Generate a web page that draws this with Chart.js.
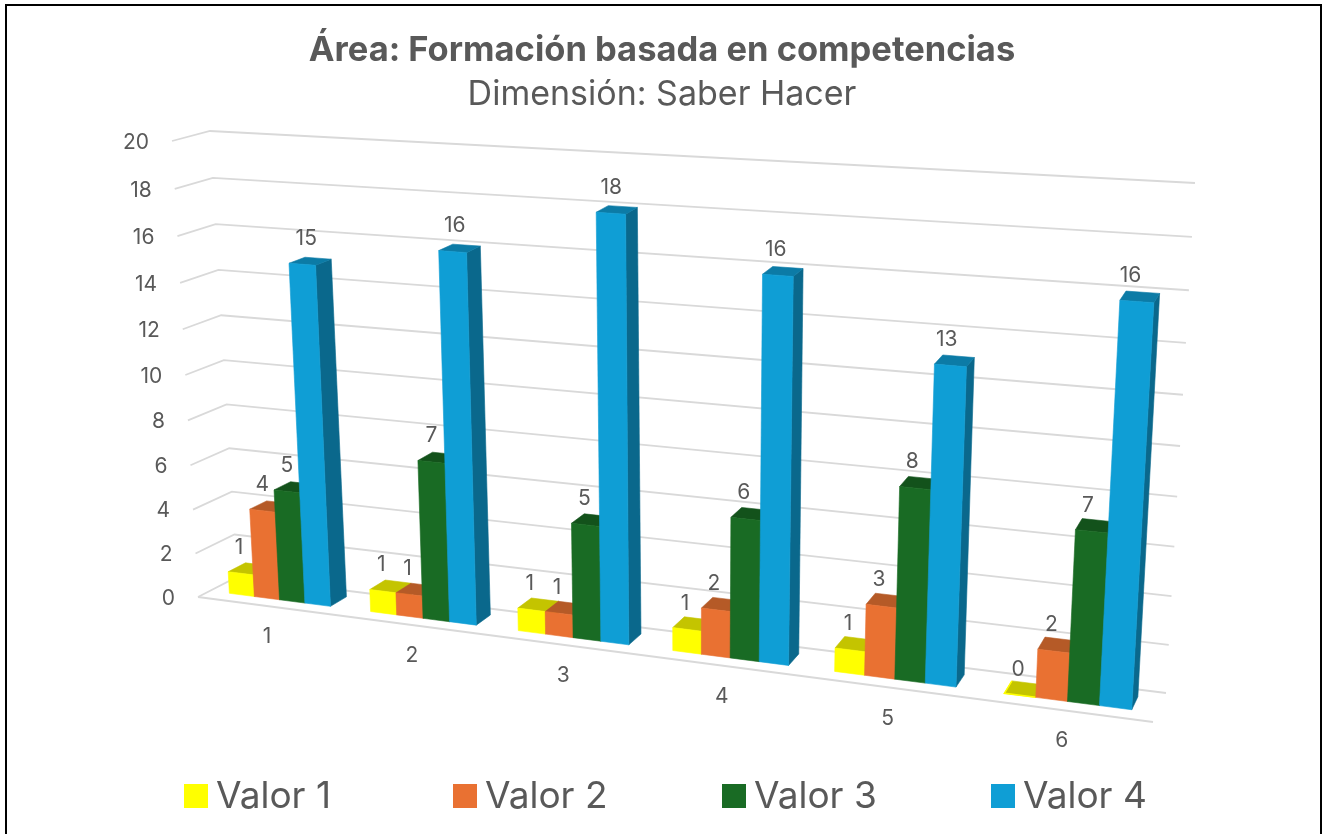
<!DOCTYPE html>
<html>
<head>
<meta charset="utf-8">
<title>Área: Formación basada en competencias</title>
<script src="https://cdn.jsdelivr.net/npm/chart.js@4"></script>
<style>
    html, body { margin: 0; padding: 0; background: #fff; overflow: hidden; }
    #chart { position: absolute; left: 0; top: 0; }
    #frame { position: absolute; left: 5px; top: 4px; width: 1313px; height: 840px; border: 2.5px solid #000; pointer-events: none; }
</style>
</head>
<body>
<canvas id="chart" width="1328" height="834"></canvas>
<div id="frame"></div>
<script>
const categories = ["1", "2", "3", "4", "5", "6"];
const valor1 = [1, 1, 1, 1, 1, 0];
const valor2 = [4, 1, 1, 2, 3, 2];
const valor3 = [5, 7, 5, 6, 8, 7];
const valor4 = [15, 16, 18, 16, 13, 16];
const seriesNames = ["Valor 1", "Valor 2", "Valor 3", "Valor 4"];

const FONT = "Inter, 'Open Sans', sans-serif";
const TEXT = "#595959";
const GRID = "#d9d9d9";

// front, top and side colours of the 3D columns
const faces = [
    { front: "#ffff00", top: "#c4c400", side: "#a8a800" },
    { front: "#e97132", top: "#b55a27", side: "#a04f22" },
    { front: "#196b24", top: "#13521b", side: "#104716" },
    { front: "#0f9ed5", top: "#0c7ba6", side: "#0a688c" }
];

// unit square -> quad (order: bottom left, bottom right, top right, top left)
function quadMap(q) {
    const [x0, y0] = q[0], [x1, y1] = q[1], [x2, y2] = q[2], [x3, y3] = q[3];
    const dx1 = x1 - x2, dx2 = x3 - x2, sx = x0 - x1 + x2 - x3;
    const dy1 = y1 - y2, dy2 = y3 - y2, sy = y0 - y1 + y2 - y3;
    const den = dx1 * dy2 - dx2 * dy1;
    const g = (sx * dy2 - dx2 * sy) / den;
    const h = (dx1 * sy - sx * dy1) / den;
    const a = x1 - x0 + g * x1, b = x3 - x0 + h * x3;
    const d = y1 - y0 + g * y1, e = y3 - y0 + h * y3;
    return (u, v) => {
        const w = g * u + h * v + 1;
        return [(a * u + b * v + x0) / w, (d * u + e * v + y0) / w];
    };
}

// the chart's back wall and front plane as they sit in the picture
const backWall = quadMap([[237, 577], [1166, 693], [1195, 183], [210, 131]]);
const frontWall = quadMap([[198, 597], [1153, 722], [1183, 202], [172, 141]]);
const BAR_BACK = 0.24, BAR_FRONT = 0.69;

function project(chart, px, py, depth) {
    const area = chart.chartArea;
    const u = (px - area.left) / area.width;
    const v = (area.bottom - py) / area.height;
    const b = backWall(u, v), f = frontWall(u, v);
    return [b[0] + (f[0] - b[0]) * depth, b[1] + (f[1] - b[1]) * depth];
}

function poly(ctx, pts, fill) {
    ctx.beginPath();
    pts.forEach((p, i) => i ? ctx.lineTo(p[0], p[1]) : ctx.moveTo(p[0], p[1]));
    ctx.closePath();
    ctx.fillStyle = fill;
    ctx.fill();
    ctx.strokeStyle = fill;
    ctx.lineWidth = 0.6;
    ctx.stroke();
}

function line(ctx, pts) {
    ctx.beginPath();
    pts.forEach((p, i) => i ? ctx.lineTo(p[0], p[1]) : ctx.moveTo(p[0], p[1]));
    ctx.stroke();
}

const perspective = {
    id: "perspective",

    // grid walls and axis labels
    beforeDatasetsDraw(chart) {
        const ctx = chart.ctx, area = chart.chartArea, y = chart.scales.y, x = chart.scales.x;
        ctx.save();
        ctx.strokeStyle = GRID;
        ctx.lineWidth = 1.8;
        ctx.font = "21px " + FONT;
        ctx.fillStyle = TEXT;
        ctx.textBaseline = "middle";
        ctx.textAlign = "right";
        y.ticks.forEach(t => {
            const py = y.getPixelForValue(t.value);
            const a = project(chart, area.left, py, 1);
            line(ctx, [a, project(chart, area.left, py, 0), project(chart, area.right, py, 0)]);
            ctx.fillText(String(t.value), a[0] - 23, a[1] + 1.5);
        });
        line(ctx, [project(chart, area.left, area.bottom, 1), project(chart, area.right, area.bottom, 1)]);
        ctx.textAlign = "center";
        categories.forEach((c, i) => {
            const p = project(chart, x.getPixelForValue(i), area.bottom, 1);
            ctx.fillText(c, p[0] - 1, p[1] + 31);
        });
        ctx.restore();
    },

    // the flat bars are replaced by the projected columns
    beforeDatasetDraw() {
        return false;
    },

    afterDatasetsDraw(chart) {
        const ctx = chart.ctx, area = chart.chartArea;
        ctx.save();
        const labels = [];
        categories.forEach((c, i) => {
            chart.data.datasets.forEach((ds, s) => {
                const bar = chart.getDatasetMeta(s).data[i];
                const l = bar.x - bar.width / 2, r = bar.x + bar.width / 2;
                const fl = project(chart, l, bar.base, BAR_FRONT), fr = project(chart, r, bar.base, BAR_FRONT);
                const tl = project(chart, l, bar.y, BAR_FRONT), tr = project(chart, r, bar.y, BAR_FRONT);
                const bl = project(chart, l, bar.y, BAR_BACK), br = project(chart, r, bar.y, BAR_BACK);
                const sb = project(chart, r, bar.base, BAR_BACK);
                poly(ctx, [tr, br, sb, fr], faces[s].side);
                poly(ctx, [tl, tr, br, bl], faces[s].top);
                if (ds.data[i] > 0) {
                    poly(ctx, [fl, fr, tr, tl], faces[s].front);
                } else {
                    ctx.strokeStyle = faces[s].front;
                    ctx.lineWidth = 1.5;
                    line(ctx, [bl, tl, tr]);
                }
                const top = project(chart, bar.x, bar.y, BAR_FRONT);
                // tall columns carry their label a bit towards the middle of the chart
                const u = (bar.x - area.left) / area.width, v = (area.bottom - bar.y) / area.height;
                labels.push([String(ds.data[i]), top[0] - 2 + v * (10 - 16 * u), top[1] - 26]);
            });
        });
        ctx.font = "21px " + FONT;
        ctx.fillStyle = TEXT;
        ctx.textAlign = "center";
        ctx.textBaseline = "middle";
        labels.forEach(t => ctx.fillText(t[0], t[1], t[2]));
        ctx.restore();
    },

    // legend with the tight box / text gap of the original
    afterDraw(chart) {
        const ctx = chart.ctx;
        ctx.save();
        ctx.font = "37px " + FONT;
        ctx.textAlign = "left";
        ctx.textBaseline = "middle";
        chart.data.datasets.forEach((ds, s) => {
            const x = 184 + s * 269;
            ctx.fillStyle = ds.backgroundColor;
            ctx.fillRect(x, 784, 24, 24);
            ctx.fillStyle = TEXT;
            ctx.fillText(ds.label, x + 32, 796.5);
        });
        ctx.restore();
    }
};

const seriesValues = [valor1, valor2, valor3, valor4];

new Chart(document.getElementById("chart"), {
    type: "bar",
    data: {
        labels: categories,
        datasets: seriesValues.map((values, s) => ({
            label: seriesNames[s],
            data: values,
            backgroundColor: faces[s].front
        }))
    },
    options: {
        responsive: false,
        animation: false,
        layout: { padding: { right: 4 } },
        categoryPercentage: 0.72,
        barPercentage: 1,
        scales: {
            x: { display: false },
            y: { display: false, min: 0, max: 20, ticks: { stepSize: 2 } }
        },
        plugins: {
            legend: { display: false },
            tooltip: { enabled: false },
            title: {
                display: true,
                text: "Área: Formación basada en competencias",
                color: TEXT,
                font: { family: FONT, size: 34.5, weight: "bold" },
                padding: { top: 30, bottom: 0 }
            },
            subtitle: {
                display: true,
                text: "Dimensión: Saber Hacer",
                color: TEXT,
                font: { family: FONT, size: 34 },
                padding: { top: 3, bottom: 0 }
            }
        }
    },
    plugins: [perspective]
});
</script>
</body>
</html>
